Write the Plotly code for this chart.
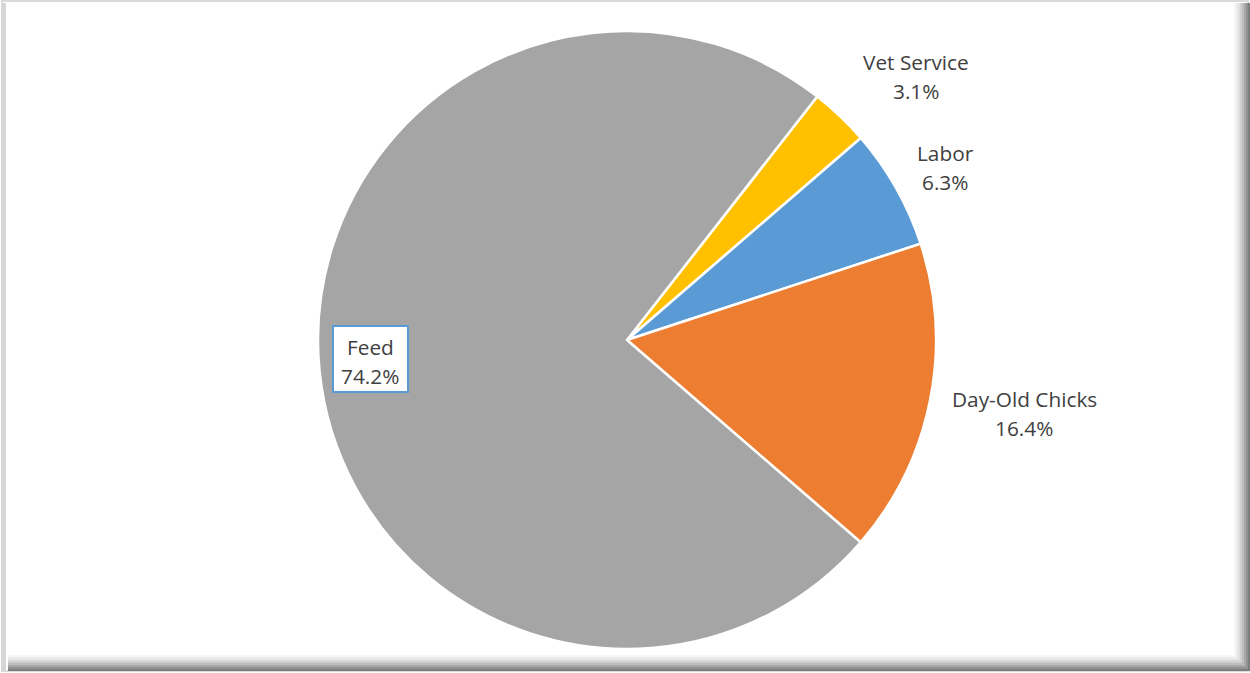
import plotly.graph_objects as go

# Broiler production cost shares (%)
categories = ["Vet Service", "Labor", "Day-Old Chicks", "Feed"]
shares = [3.1, 6.3, 16.4, 74.2]
colors = ["#FFC000", "#5B9BD5", "#ED7D31", "#A5A5A5"]

W, H = 1250, 673
cx, cy, r = 627, 340, 309  # pie centre and radius in pixels

def px(x):
    return x / W

def py(y):
    return 1 - y / H

fig = go.Figure()
fig.add_trace(go.Pie(
    labels=categories,
    values=shares,
    sort=False,
    direction="clockwise",
    rotation=38,
    marker=dict(colors=colors, line=dict(color="white", width=2.5)),
    textinfo="none",
    hoverinfo="label+percent",
    domain=dict(x=[px(cx - r), px(cx + r)], y=[py(cy + r), py(cy - r)]),
    showlegend=False,
))

# label centres (pixels): x, y of the first line; second line sits 29 px lower
label_pos = {
    "Vet Service": (916, 62),
    "Labor": (945, 153),
    "Day-Old Chicks": (1024, 399),
    "Feed": (370, 347),
}
font = dict(family="Open Sans, Noto Sans, sans-serif", size=20.8, color="#404040")
annotations = []
for name, val in zip(categories, shares):
    x, y = label_pos[name]
    for line, yy in ((name, y), (f"{val:.1f}%", y + 29)):
        annotations.append(dict(
            x=px(x), y=py(yy), xref="paper", yref="paper",
            xanchor="center", yanchor="middle",
            text=line, showarrow=False, font=font,
        ))

shapes = [
    # bevelled rim around the pie
    dict(type="circle", xref="paper", yref="paper", layer="below",
         x0=px(cx - r - 3), x1=px(cx + r + 3), y0=py(cy + r + 3), y1=py(cy - r - 3),
         line=dict(color="#c4c4c4", width=3), fillcolor="#d0d0d0"),
    # chart frame
    dict(type="rect", xref="paper", yref="paper", layer="below",
         x0=px(2), x1=px(1248), y0=py(671), y1=py(1),
         line=dict(color="#d9d9d9", width=2), fillcolor="white"),
    # box behind the Feed label
    dict(type="rect", xref="paper", yref="paper", layer="above",
         x0=px(333), x1=px(408), y0=py(392), y1=py(326),
         line=dict(color="#5B9BD5", width=2), fillcolor="white"),
]
# right and bottom shadow bands of the frame
for i, c in enumerate(["#f6f6f6", "#ececec", "#e0e0e0", "#d0d0d0", "#bdbdbd",
                       "#a8a8a8", "#929292", "#7e7e7e"]):
    shapes.append(dict(type="rect", xref="paper", yref="paper", layer="below",
                       x0=px(1234 + 2 * i), x1=px(1236 + 2 * i), y0=py(671), y1=py(3),
                       line=dict(width=0), fillcolor=c))
    shapes.append(dict(type="rect", xref="paper", yref="paper", layer="below",
                       x0=px(8), x1=px(1250), y0=py(657 + 2 * i), y1=py(655 + 2 * i),
                       line=dict(width=0), fillcolor=c))
# left edge band
shapes.append(dict(type="rect", xref="paper", yref="paper", layer="below",
                   x0=px(2), x1=px(6), y0=py(671), y1=py(3),
                   line=dict(width=0), fillcolor="#d6d6d6"))

fig.update_layout(
    width=W, height=H,
    margin=dict(l=0, r=0, t=0, b=0),
    paper_bgcolor="white",
    plot_bgcolor="white",
    annotations=annotations,
    shapes=shapes,
)

fig.write_html("out.html")
